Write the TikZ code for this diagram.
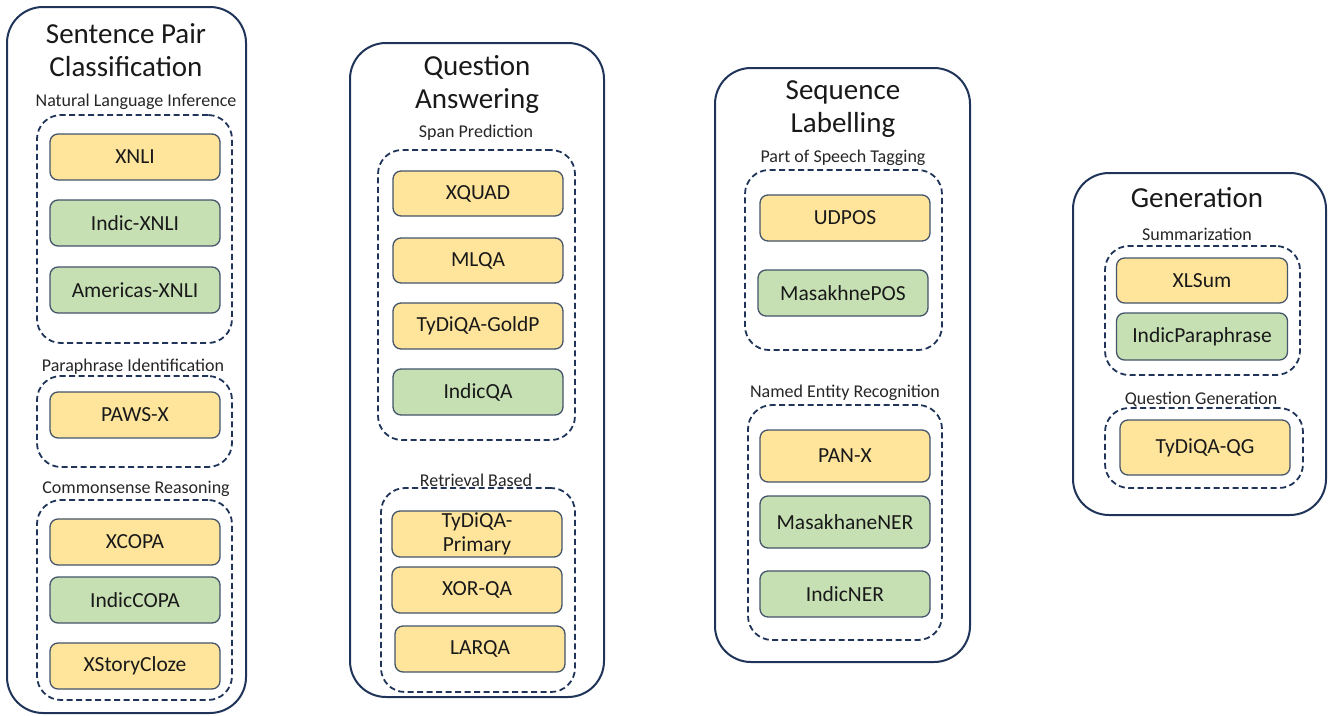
\documentclass[tikz,border=0pt]{standalone}
\usepackage{fontspec}
\setmainfont{Carlito}
\usepackage{xcolor}
\usepackage{tikz}
\definecolor{navy}{HTML}{1F3458}
\definecolor{slate}{HTML}{44546A}
\definecolor{dsyellow}{HTML}{FFE59B}
\definecolor{dsgreen}{HTML}{C6E0B4}
\tikzset{
task/.style={
  draw=navy, line width=2pt, rounded corners=36pt,
  inner sep=0pt
},
group/.style={
  draw=navy, line width=1.8pt, dash pattern=on 6pt off 3.5pt,
  rounded corners=24pt, inner sep=0pt
},
dataset/.style={
  draw=slate, line width=1.3pt, rounded corners=8pt,
  minimum width=170pt, minimum height=46pt, inner sep=0pt,
  font=\fontsize{21.5}{24}\selectfont, text=black!90, align=center
},
old/.style={dataset, fill=dsyellow},
new/.style={dataset, fill=dsgreen},
tasktitle/.style={font=\fontsize{29}{33}\selectfont, align=center, text=black!90},
grouptitle/.style={font=\fontsize{18}{20}\selectfont, text=black!85},
}

\begin{document}
\begin{tikzpicture}[x=1pt,y=-1pt]
\useasboundingbox (0,0) rectangle (1333,715);

% Sentence Pair Classification
\node[task, minimum width=239pt, minimum height=706pt] (spc) at (126.5,360) {};
\node[tasktitle] (spc-t) at (126,50.5) {Sentence Pair\\Classification};
\node[grouptitle] (nli-t) at (136,102) {Natural Language Inference};
\node[group, minimum width=195pt, minimum height=228pt] (nli) at (134.5,229) {};
\node[old] (xnli) at (135,157) {XNLI};
\node[new] (indicxnli) at (135,223) {Indic-XNLI};
\node[new] (amxnli) at (135,290) {Americas-XNLI};
\node[grouptitle] (pi-t) at (133,367) {Paraphrase Identification};
\node[group, minimum width=195pt, minimum height=91pt] (pi) at (134.5,421.5) {};
\node[old] (pawsx) at (135,415) {PAWS-X};
\node[grouptitle] (cr-t) at (136,489) {Commonsense Reasoning};
\node[group, minimum width=195pt, minimum height=200pt] (cr) at (134.5,600) {};
\node[old] (xcopa) at (135,542) {XCOPA};
\node[new] (indiccopa) at (135,600) {IndicCOPA};
\node[old] (xstory) at (135,666) {XStoryCloze};

% Question Answering
\node[task, minimum width=254pt, minimum height=654pt] (qa) at (477,370) {};
\node[tasktitle] (qa-t) at (477,84.5) {Question\\Answering};
\node[grouptitle] (span-t) at (476,133) {Span Prediction};
\node[group, minimum width=197pt, minimum height=290pt] (span) at (476.5,295) {};
\node[old, minimum height=45pt] (xquad) at (478,193.5) {XQUAD};
\node[old, minimum height=45pt] (mlqa) at (478,260.5) {MLQA};
\node[old] (goldp) at (478,326) {TyDiQA-GoldP};
\node[new] (indicqa) at (478,392) {IndicQA};
\node[grouptitle] (ret-t) at (476,480) {Retrieval Based};
\node[group, minimum width=194pt, minimum height=204pt] (ret) at (478,590) {};
\node[old, font=\fontsize{21.5}{24}\selectfont] (primary) at (477,534) {TyDiQA-\\Primary};
\node[old] (xorqa) at (477,590) {XOR-QA};
\node[old] (larqa) at (480,649) {LARQA};

% Sequence Labelling
\node[task, minimum width=255pt, minimum height=594pt] (sl) at (842.5,365) {};
\node[tasktitle] (sl-t) at (843,109.5) {Sequence\\Labelling};
\node[grouptitle] (pos-t) at (843,158) {Part of Speech Tagging};
\node[group, minimum width=197pt, minimum height=180pt] (pos) at (843.5,260) {};
\node[old] (udpos) at (845,218) {UDPOS};
\node[new] (masapos) at (843,293) {MasakhnePOS};
\node[grouptitle] (ner-t) at (845,393) {Named Entity Recognition};
\node[group, minimum width=194pt, minimum height=235pt] (ner) at (845,522.5) {};
\node[old, minimum height=52pt] (panx) at (845,456) {PAN-X};
\node[new, minimum height=52pt] (masaner) at (845,522) {MasakhaneNER};
\node[new] (indicner) at (845,594) {IndicNER};

% Generation
\node[task, minimum width=253pt, minimum height=342pt] (gen) at (1199.5,344) {};
\node[tasktitle] (gen-t) at (1197,198) {Generation};
\node[grouptitle] (sum-t) at (1197,234) {Summarization};
\node[group, minimum width=195pt, minimum height=129pt] (sum) at (1202.5,310.5) {};
\node[old, minimum width=171pt, minimum height=45pt] (xlsum) at (1202,280.5) {XLSum};
\node[new, minimum width=171pt, minimum height=47pt] (indicpara) at (1202,336.5) {IndicParaphrase};
\node[grouptitle] (qg-t) at (1201,399) {Question Generation};
\node[group, minimum width=198pt, minimum height=80pt] (qg) at (1204,448) {};
\node[old, minimum height=55pt] (qgset) at (1205,447.5) {TyDiQA-QG};
\end{tikzpicture}
\end{document}
